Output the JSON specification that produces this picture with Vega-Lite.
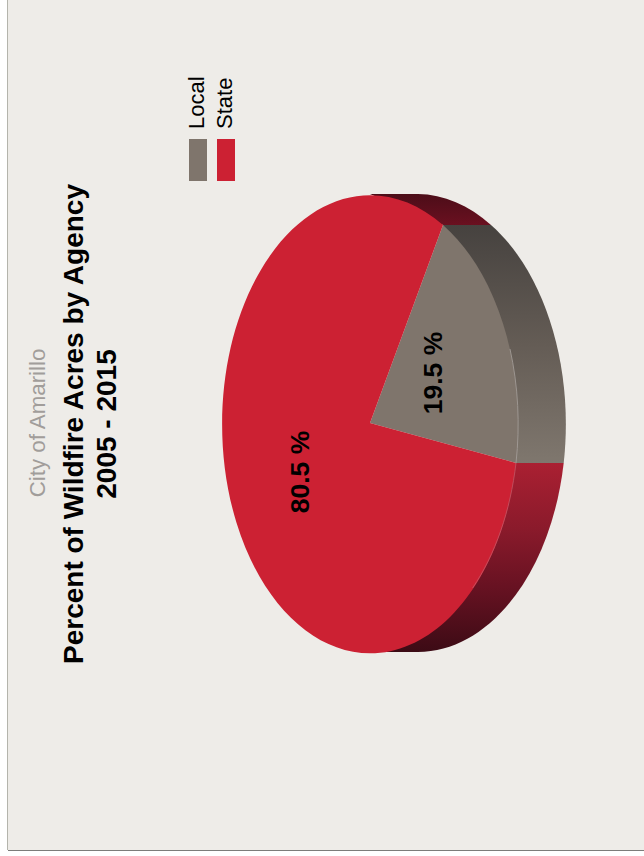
{
"$schema":"https://vega.github.io/schema/vega-lite/v6.json",
"width":644,"height":856,"padding":0,"autosize":{"type":"none"},
"background":"#ffffff",
"config":{"view":{"stroke":null},"font":"Liberation Sans"},
"datasets":{
"slices":[
{"Agency":"Local","Percent":19.5,"label":"19.5 %","cx":370,"cy":423,"lx":434,"ly":373},
{"Agency":"State","Percent":80.5,"label":"80.5 %","cx":370,"cy":423,"lx":301,"ly":472}],
"titles":[{"t":"City of Amarillo","x":38,"y":423}],
"heads":[{"t":"Percent of Wildfire Acres by Agency","x":75,"y":424},{"t":"2005 - 2015","x":108,"y":424}]
},
"encoding":{
"x":{"field":"cx","type":"quantitative","scale":{"domain":[0,644],"range":[0,644]},"axis":null},
"y":{"field":"cy","type":"quantitative","scale":{"domain":[0,856],"range":[0,856]},"axis":null}
},
"layer":[
{"data":{"values":[{"x":8,"x2":644,"y":0,"y2":850}]},"mark":{"type":"rect","fill":"#eeece8"},
 "encoding":{"x":{"field":"x","type":"quantitative"},"x2":{"field":"x2"},"y":{"field":"y","type":"quantitative"},"y2":{"field":"y2"}}},
{"data":{"values":[{"x":7.5,"y":0,"y2":850}]},"mark":{"type":"rule","stroke":"#b4b4ac","strokeWidth":1},
 "encoding":{"x":{"field":"x","type":"quantitative"},"y":{"field":"y","type":"quantitative"},"y2":{"field":"y2"}}},
{"data":{"values":[{"x":8,"x2":644,"y":850.5}]},"mark":{"type":"rule","stroke":"#7c7c7a","strokeWidth":1},
 "encoding":{"x":{"field":"x","type":"quantitative"},"x2":{"field":"x2"},"y":{"field":"y","type":"quantitative"}}},
{"data":{"name":"slices"},"transform":[{"filter":"datum.Agency=='State'"}],
 "mark":{"type":"point","filled":true,"size":4,"opacity":1,"strokeWidth":0,"shape":"M73 -198 L121 -198 A148 229 0 0 0 48 -229 L0 -229 Z",
 "fill":{"gradient":"linear","x1":0,"y1":0,"x2":0,"y2":1,"stops":[{"offset":0,"color":"#4c0d18"},{"offset":1,"color":"#6a1020"}]}}},
{"data":{"name":"slices"},"transform":[{"filter":"datum.Agency=='Local'"}],
 "mark":{"type":"point","filled":true,"size":4,"opacity":1,"strokeWidth":0,"shape":"M73 -198 L121 -198 A148 229 0 0 1 193.7 40 L146 40 Z",
 "fill":{"gradient":"linear","x1":0,"y1":0,"x2":0,"y2":1,"stops":[{"offset":0,"color":"#46423f"},{"offset":0.5,"color":"#645c55"},{"offset":1,"color":"#7f776e"}]}}},
{"data":{"name":"slices"},"transform":[{"filter":"datum.Agency=='State'"}],
 "mark":{"type":"point","filled":true,"size":4,"opacity":1,"strokeWidth":0,"shape":"M146 40 L193.7 40 A148 229 0 0 1 48 229 L0 229 Z",
 "fill":{"gradient":"linear","x1":0,"y1":0,"x2":0,"y2":1,"stops":[{"offset":0,"color":"#aa2032"},{"offset":0.35,"color":"#8a1a2b"},{"offset":0.65,"color":"#681222"},{"offset":1,"color":"#3c0b15"}]}}},
{"data":{"name":"slices"},"transform":[{"filter":"datum.Agency=='Local'"}],
 "mark":{"type":"point","filled":true,"size":4,"opacity":1,"strokeWidth":0,"shape":"M0 0 L73 -198 A148 229 0 0 1 146 40 Z"},
 "encoding":{
  "color":{"field":"Agency","type":"nominal","scale":{"domain":["Local","State"],"range":["#7f756c","#cc2133"]},
   "legend":{"orient":"none","legendX":187,"legendY":118,"direction":"horizontal","title":null,
    "symbolType":"M-9 10 H9 V52 H-9 Z","symbolSize":4,"symbolOpacity":1,"symbolStrokeWidth":0,
    "labelFontSize":22,"labelColor":"#000000","labelFont":"Liberation Sans","labelOffset":-12,"columnPadding":5,
    "encode":{"labels":{"update":{"angle":{"value":270},"align":{"value":"left"},"baseline":{"value":"middle"}}}}}}
 }},
{"data":{"name":"slices"},"transform":[{"filter":"datum.Agency=='State'"}],
 "mark":{"type":"point","filled":true,"size":4,"opacity":1,"strokeWidth":0,"shape":"M0 0 L73 -198 A148 229 0 1 0 146 40 Z"},
 "encoding":{"color":{"field":"Agency","type":"nominal"}}},
{"data":{"values":[{"cx":370,"cy":423}]},
 "mark":{"type":"point","filled":false,"size":4,"opacity":0.75,"strokeWidth":1,"stroke":"#aaa4a0","shape":"M140 -74 A148 229 0 0 1 146 40"}},
{"data":{"values":[{"cx":370,"cy":423}]},
 "mark":{"type":"point","filled":false,"size":4,"opacity":0.6,"strokeWidth":1,"stroke":"#c46a78","shape":"M146 40 A148 229 0 0 1 102.6 165"}},
{"data":{"name":"slices"},"mark":{"type":"text","font":"Liberation Sans","fontWeight":"bold","fontSize":26.5,"angle":270,"align":"center","baseline":"middle","color":"#000000"},
 "encoding":{"x":{"field":"lx","type":"quantitative"},"y":{"field":"ly","type":"quantitative"},"text":{"field":"label"}}},
{"data":{"name":"titles"},"mark":{"type":"text","font":"Liberation Sans","fontSize":22.3,"angle":270,"align":"center","baseline":"middle","color":"#a19d9a"},
 "encoding":{"x":{"field":"x","type":"quantitative"},"y":{"field":"y","type":"quantitative"},"text":{"field":"t"}}},
{"data":{"name":"heads"},"mark":{"type":"text","font":"Liberation Sans","fontWeight":"bold","fontSize":28,"angle":270,"align":"center","baseline":"middle","color":"#000000"},
 "encoding":{"x":{"field":"x","type":"quantitative"},"y":{"field":"y","type":"quantitative"},"text":{"field":"t"}}}
]
}
